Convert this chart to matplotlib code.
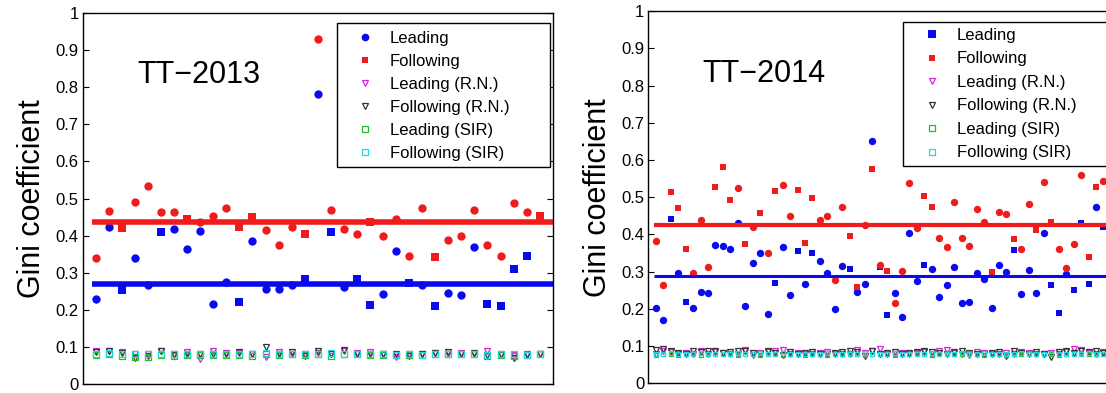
import numpy as np
import matplotlib
matplotlib.use("Agg")
import matplotlib.pyplot as plt
from matplotlib.lines import Line2D
from matplotlib.patches import Rectangle

plt.rcParams['font.family'] = ['Liberation Sans', 'DejaVu Sans']

# TT-2013 (35 samples)
lead13 = [0.228, 0.424, 0.253, 0.339, 0.267, 0.409, 0.418, 0.364, 0.412, 0.215,
          0.276, 0.220, 0.386, 0.257, 0.257, 0.267, 0.282, 0.781, 0.409, 0.261,
          0.282, 0.213, 0.243, 0.358, 0.271, 0.267, 0.210, 0.246, 0.239, 0.368,
          0.215, 0.210, 0.309, 0.344, 0.452]
follow13 = [0.339, 0.466, 0.421, 0.490, 0.534, 0.464, 0.464, 0.445, 0.438, 0.454,
            0.475, 0.424, 0.450, 0.414, 0.375, 0.424, 0.403, 0.929, 0.469, 0.418,
            0.403, 0.436, 0.400, 0.445, 0.346, 0.475, 0.341, 0.389, 0.400, 0.469,
            0.375, 0.346, 0.487, 0.464, 0.454]
lead_rn13 = [0.090, 0.090, 0.085, 0.080, 0.082, 0.088, 0.082, 0.085, 0.068, 0.090,
             0.084, 0.083, 0.082, 0.072, 0.085, 0.082, 0.080, 0.083, 0.081, 0.088,
             0.084, 0.086, 0.082, 0.072, 0.080, 0.082, 0.083, 0.082, 0.083, 0.082,
             0.088, 0.080, 0.078, 0.080, 0.082]
follow_rn13 = [0.085, 0.088, 0.083, 0.070, 0.075, 0.090, 0.078, 0.082, 0.080, 0.082,
               0.082, 0.086, 0.080, 0.100, 0.080, 0.086, 0.075, 0.088, 0.080, 0.092,
               0.080, 0.082, 0.080, 0.080, 0.076, 0.082, 0.084, 0.085, 0.082, 0.084,
               0.078, 0.078, 0.070, 0.078, 0.080]
lead_sir13 = [0.078, 0.080, 0.076, 0.074, 0.074, 0.078, 0.076, 0.078, 0.077, 0.079,
              0.078, 0.077, 0.076, 0.080, 0.078, 0.082, 0.078, 0.082, 0.076, 0.080,
              0.080, 0.078, 0.077, 0.078, 0.077, 0.078, 0.080, 0.080, 0.080, 0.081,
              0.076, 0.077, 0.076, 0.078, 0.080]
follow_sir13 = [0.081, 0.083, 0.080, 0.082, 0.082, 0.080, 0.080, 0.082, 0.080, 0.082,
                0.080, 0.080, 0.082, 0.083, 0.080, 0.080, 0.082, 0.080, 0.084, 0.080,
                0.082, 0.080, 0.080, 0.078, 0.080, 0.079, 0.080, 0.080, 0.080, 0.082,
                0.079, 0.080, 0.080, 0.079, 0.081]
mean_lead13 = 0.270
mean_follow13 = 0.436

# TT-2014 (62 samples)
lead14 = [0.203, 0.171, 0.441, 0.297, 0.218, 0.203, 0.246, 0.243, 0.372, 0.368,
          0.361, 0.430, 0.208, 0.322, 0.349, 0.186, 0.269, 0.365, 0.237, 0.356,
          0.268, 0.350, 0.329, 0.297, 0.200, 0.315, 0.307, 0.245, 0.268, 0.651,
          0.313, 0.184, 0.243, 0.179, 0.403, 0.275, 0.319, 0.307, 0.233, 0.264,
          0.312, 0.216, 0.219, 0.297, 0.279, 0.203, 0.318, 0.300, 0.358, 0.240,
          0.304, 0.243, 0.403, 0.264, 0.188, 0.295, 0.251, 0.431, 0.268, 0.475,
          0.420, 0.300]
follow14 = [0.382, 0.264, 0.513, 0.470, 0.361, 0.297, 0.440, 0.313, 0.527, 0.582,
            0.492, 0.525, 0.373, 0.419, 0.458, 0.349, 0.517, 0.534, 0.450, 0.520,
            0.377, 0.497, 0.440, 0.450, 0.278, 0.473, 0.397, 0.259, 0.425, 0.575,
            0.318, 0.303, 0.215, 0.302, 0.537, 0.418, 0.504, 0.474, 0.391, 0.365,
            0.487, 0.391, 0.370, 0.469, 0.433, 0.300, 0.461, 0.454, 0.389, 0.361,
            0.483, 0.412, 0.540, 0.434, 0.361, 0.309, 0.374, 0.559, 0.340, 0.528,
            0.544, 0.450]
lead_rn14 = [0.080, 0.088, 0.085, 0.080, 0.082, 0.078, 0.086, 0.080, 0.084, 0.082,
             0.078, 0.080, 0.090, 0.076, 0.082, 0.084, 0.088, 0.090, 0.080, 0.082,
             0.078, 0.080, 0.082, 0.084, 0.080, 0.078, 0.080, 0.090, 0.082, 0.086,
             0.092, 0.078, 0.080, 0.082, 0.080, 0.082, 0.084, 0.078, 0.088, 0.090,
             0.082, 0.080, 0.076, 0.084, 0.082, 0.080, 0.078, 0.082, 0.080, 0.084,
             0.082, 0.080, 0.078, 0.082, 0.080, 0.084, 0.092, 0.090, 0.082, 0.080,
             0.084, 0.082]
follow_rn14 = [0.090, 0.092, 0.088, 0.082, 0.080, 0.086, 0.084, 0.088, 0.086, 0.082,
               0.084, 0.086, 0.088, 0.082, 0.080, 0.086, 0.082, 0.076, 0.084, 0.080,
               0.082, 0.084, 0.080, 0.078, 0.082, 0.084, 0.086, 0.084, 0.072, 0.086,
               0.080, 0.082, 0.084, 0.080, 0.082, 0.084, 0.088, 0.084, 0.082, 0.080,
               0.084, 0.086, 0.082, 0.078, 0.080, 0.082, 0.084, 0.072, 0.086, 0.082,
               0.080, 0.084, 0.078, 0.070, 0.084, 0.086, 0.082, 0.088, 0.084, 0.086,
               0.082, 0.084]
lead_sir14 = [0.076, 0.080, 0.078, 0.076, 0.080, 0.082, 0.076, 0.078, 0.080, 0.078,
              0.082, 0.076, 0.080, 0.078, 0.076, 0.080, 0.078, 0.076, 0.080, 0.078,
              0.076, 0.078, 0.080, 0.076, 0.078, 0.080, 0.082, 0.078, 0.076, 0.078,
              0.080, 0.078, 0.076, 0.078, 0.080, 0.082, 0.078, 0.076, 0.080, 0.082,
              0.078, 0.080, 0.082, 0.078, 0.076, 0.080, 0.078, 0.076, 0.078, 0.080,
              0.082, 0.078, 0.080, 0.078, 0.076, 0.080, 0.078, 0.082, 0.080, 0.078,
              0.080, 0.078]
follow_sir14 = [0.080, 0.078, 0.082, 0.080, 0.078, 0.080, 0.082, 0.080, 0.078, 0.080,
                0.078, 0.082, 0.080, 0.080, 0.082, 0.078, 0.080, 0.082, 0.078, 0.080,
                0.080, 0.080, 0.078, 0.082, 0.080, 0.078, 0.080, 0.080, 0.082, 0.080,
                0.078, 0.080, 0.082, 0.080, 0.078, 0.080, 0.080, 0.082, 0.078, 0.080,
                0.080, 0.082, 0.078, 0.080, 0.082, 0.080, 0.078, 0.080, 0.080, 0.082,
                0.080, 0.078, 0.080, 0.082, 0.080, 0.078, 0.080, 0.080, 0.082, 0.080,
                0.078, 0.080]
mean_lead14 = 0.288
mean_follow14 = 0.425

yticks = [0, 0.1, 0.2, 0.3, 0.4, 0.5, 0.6, 0.7, 0.8, 0.9, 1]
ytick_labels = ['0', '0.1', '0.2', '0.3', '0.4', '0.5', '0.6', '0.7', '0.8', '0.9', '1']
legend_labels = ['Leading', 'Following', 'Leading (R.N.)', 'Following (R.N.)',
                 'Leading (SIR)', 'Following (SIR)']

# marker shape of every main point (o = circle, s = square)
shape_lead13 = "oosoosoooo" + "osoooososo" + "ssoososooo" + "sssss"
shape_follow13 = "oosoooosoo" + "ossooosooo" + "osoooosooo" + "oooos"
shape_lead14 = "oososooooo" + "oooooosoos" + "osoooosooo" + "ssoooosooo" + "ooooooooso" + "ooossosssoso"
shape_follow14 = "oosssoooss" + "sosososoos" + "ssoooossos" + "osoooossoo" + "ooooosooso" + "ososoooossos"

BLUE = '#0a0af0'
RED = '#ee1c1c'
MAG = '#e020e0'
GRAY = '#333333'
GREEN = '#20c020'
CYAN = '#20d8e0'


def draw_panel(ax, lead, follow, lrn, frn, lsir, fsir, m_lead, m_follow,
               sh_lead, sh_follow, ms, lms, lw_line, title, title_x):
    n = len(lead)
    x = np.arange(1, n + 1)

    for xs, v, m in zip(x, lead, sh_lead):
        ax.plot(xs, v, m, color=BLUE, ms=ms if m == 'o' else ms * 0.85, mew=0)
    for xs, v, m in zip(x, follow, sh_follow):
        ax.plot(xs, v, m, color=RED, ms=ms if m == 'o' else ms * 0.85, mew=0)

    ax.plot(x, lrn, 'v', mfc='none', mec=MAG, ms=lms, mew=0.9)
    ax.plot(x, frn, 'v', mfc='none', mec=GRAY, ms=lms, mew=0.9)
    ax.plot(x, lsir, 's', mfc='none', mec=GREEN, ms=lms * 0.8, mew=0.9)
    ax.plot(x, fsir, 's', mfc='none', mec=CYAN, ms=lms * 0.8, mew=0.9)

    ax.plot([0.7, n + 1], [m_follow, m_follow], color=RED, lw=lw_line[0], solid_capstyle='butt')
    ax.plot([0.7, n + 1], [m_lead, m_lead], color=BLUE, lw=lw_line[1], solid_capstyle='butt')

    ax.set_xlim(0, n + 1)
    ax.set_ylim(0, 1)
    ax.set_xticks([])
    ax.set_yticks(yticks)
    ax.set_yticklabels(ytick_labels, fontsize=12)
    ax.tick_params(axis='y', direction='in', right=True, length=4, width=0.8, pad=3)
    for s in ax.spines.values():
        s.set_linewidth(1.0)
    ax.set_ylabel('Gini coefficient', fontsize=22)
    ax.yaxis.set_label_coords(-0.075, 0.5)
    ax.text(title_x, 0.81, title, fontsize=22, ha='left', va='baseline')


def add_legend(ax, lead_marker, box, anchor, spacing):
    handles = [
        Line2D([], [], ls='none', marker=lead_marker, color=BLUE, ms=5.5, mew=0),
        Line2D([], [], ls='none', marker='s', color=RED, ms=5, mew=0),
        Line2D([], [], ls='none', marker='v', mfc='none', mec=MAG, ms=5, mew=0.9),
        Line2D([], [], ls='none', marker='v', mfc='none', mec=GRAY, ms=5, mew=0.9),
        Line2D([], [], ls='none', marker='s', mfc='none', mec=GREEN, ms=4, mew=0.9),
        Line2D([], [], ls='none', marker='s', mfc='none', mec=CYAN, ms=4, mew=0.9),
    ]
    x0, y0, x1, y1 = box
    ax.add_patch(Rectangle((x0, y0), x1 - x0, y1 - y0, transform=ax.transAxes,
                           fill=True, fc='white', ec='black', lw=1.0, zorder=5,
                           clip_on=False))
    leg = ax.legend(handles, legend_labels, loc='upper left', bbox_to_anchor=anchor,
                    borderaxespad=0, borderpad=0, fontsize=12, frameon=False,
                    handlelength=1.0, handletextpad=1.0, labelspacing=spacing)
    leg.set_zorder(6)


fig = plt.figure(figsize=(11.06, 3.93), dpi=100)
ax1 = fig.add_axes([0.0748, 0.0229, 0.425, 0.944])
ax2 = fig.add_axes([0.5862, 0.0247, 0.425, 0.947])

draw_panel(ax1, lead13, follow13, lead_rn13, follow_rn13, lead_sir13, follow_sir13,
           mean_lead13, mean_follow13, shape_lead13, shape_follow13,
           6.0, 5, (4, 4), 'TT\u22122013', 4.2)
add_legend(ax1, 'o', (0.541, 0.586, 0.994, 0.974), (0.5825, 0.952), 0.48)

draw_panel(ax2, lead14, follow14, lead_rn14, follow_rn14, lead_sir14, follow_sir14,
           mean_lead14, mean_follow14, shape_lead14, shape_follow14,
           5.3, 4, (3, 2.2), 'TT\u22122014', 7.3)
add_legend(ax2, 's', (0.542, 0.584, 0.995, 0.971), (0.5853, 0.955), 0.51)

fig.savefig('out.png', dpi=100)
